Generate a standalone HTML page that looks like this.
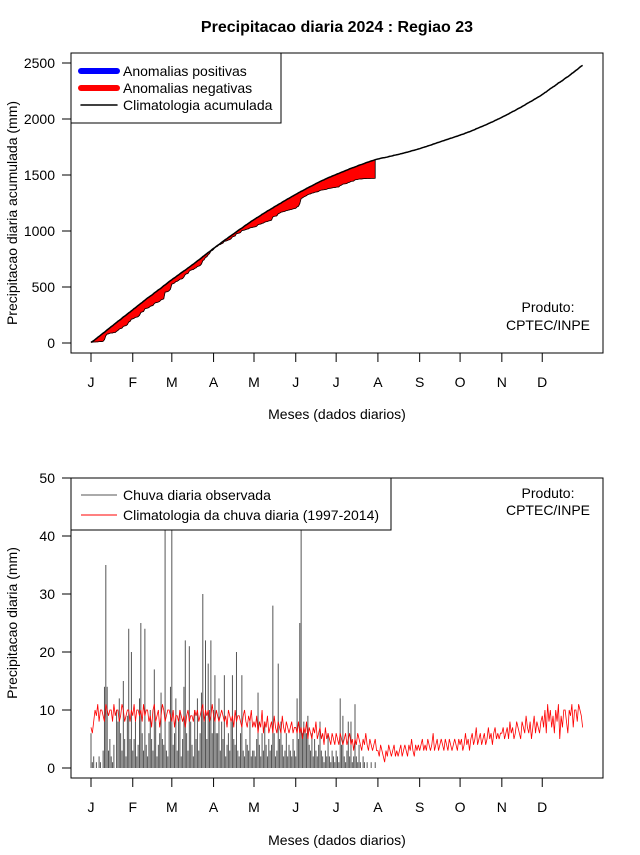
<!DOCTYPE html>
<html><head><meta charset="utf-8">
<style>
body{margin:0;background:#fff;width:640px;height:850px;overflow:hidden}
svg text{font-family:"Liberation Sans",sans-serif;fill:#000}
</style></head>
<body>
<svg id="chart" width="640" height="850" viewBox="0 0 640 850" xmlns="http://www.w3.org/2000/svg">
<text x="337" y="32" text-anchor="middle" font-size="16" font-weight="bold">Precipitacao diaria 2024 : Regiao 23</text>
<g id="topg"></g>
<g id="botg"></g>
</svg>
<script>
const monthLabels=["J","F","M","A","M","J","J","A","S","O","N","D"];
const monthStartDays=[1,32,61,92,122,153,183,214,245,275,306,336];
const topTicks=[0,500,1000,1500,2000,2500];
const botTicks=[0,10,20,30,40,50];
const obsDaily=[
6,1,2,0,1,0,2,1,0,3,14,35,14,3,5,2,1,4,0,10,8,12,6,3,15,5,2,9,24,5,20,
3,5,8,2,4,12,25,6,3,24,4,2,6,10,5,3,17,8,2,4,6,13,5,4,60,3,2,8,14,
45,4,6,12,3,8,10,2,5,14,22,6,3,21,8,4,2,10,5,12,3,6,13,30,8,22,5,18,10,22,6,
10,16,6,6,12,3,8,5,16,2,4,6,3,8,16,5,4,20,3,2,6,16,3,2,5,4,3,8,2,3,
3,2,5,13,4,2,6,3,8,4,2,5,3,4,28,6,2,3,18,5,8,4,2,3,6,2,4,3,2,5,3,
2,12,5,25,45,6,8,6,6,9,4,3,6,2,5,3,2,4,8,3,2,1,3,2,6,2,1,3,2,1,
3,2,1,12,4,9,2,1,3,8,2,8,1,2,11,2,1,4,1,0,2,1,0,1,0,0,1,0,0,1];
const climDaily=[
7,6,8,10,9,11,8,10,10,9,8,11,10,9,10,10,8,11,9,10,10,8,9,11,10,8,9,10,10,8,10,
9,11,8,10,10,9,10,8,11,9,10,10,8,9,7,10,11,8,9,10,7,9,11,10,8,9,10,10,9,
8,10,7,9,9,8,10,9,8,9,7,9,10,8,9,9,8,10,9,10,8,9,10,11,8,10,9,10,8,9,11,
9,8,10,9,8,9,10,9,8,9,7,10,9,8,9,7,10,8,9,9,8,7,9,10,8,7,9,8,10,7,
8,7,9,6,8,7,10,6,8,7,9,6,7,8,6,9,7,6,8,7,6,9,7,6,8,7,6,7,8,6,7,
7,6,8,6,7,5,7,6,8,5,7,6,5,7,6,8,5,6,7,5,6,4,7,5,6,5,4,6,5,4,
6,5,4,6,5,4,5,6,4,5,6,4,5,3,5,4,6,5,4,3,5,4,6,4,3,5,4,3,4,5,3,
3,2,4,3,2,1,3,2,4,3,2,3,4,2,3,2,3,4,2,3,4,3,2,4,3,5,3,2,4,3,4,
3,4,5,3,4,3,5,4,3,4,6,3,4,5,3,4,5,4,3,5,4,3,5,4,3,4,5,4,3,5,
4,5,3,4,6,4,5,3,5,6,4,5,7,4,5,6,4,5,6,4,5,7,5,6,4,6,7,5,6,5,6,
6,7,5,6,7,5,8,6,7,5,6,8,7,6,5,8,7,6,9,7,6,8,5,7,9,6,8,7,6,8,
9,7,10,6,11,8,10,7,9,6,10,8,11,5,9,7,10,10,8,6,10,9,11,7,10,10,8,11,10,9,7];

const NS="http://www.w3.org/2000/svg";
function mk(parent,tag,attrs,text){const e=document.createElementNS(NS,tag);for(const k in attrs)e.setAttribute(k,attrs[k]);if(text!==undefined)e.textContent=text;parent.appendChild(e);return e;}
const xDay=d=>91+(d-1)*1.347;
const yTop=v=>343-v*0.112;
const yBot=v=>768-v*5.8;

const obsCum=[],climCum=[];
let s=0;obsDaily.forEach(v=>{s+=v;obsCum.push(s);});
s=0;climDaily.forEach(v=>{s+=v;climCum.push(s);});

function axes(g,plotTop,plotBot,yf,ticks,ylabel,ylabCy,tickY,labY,xlabY,prefix){
  const box=mk(g,'rect',{x:71,y:plotTop,width:532,height:plotBot-plotTop,fill:'none',stroke:'#000','stroke-width':1});
  
  
  ticks.forEach(t=>{const y=yf(t);
    const l=mk(g,'line',{x1:62,x2:71,y1:y,y2:y,stroke:'#000'});
    
    
    const tx=mk(g,'text',{x:55,y:y+5,'text-anchor':'end','font-size':14},t);
    
    });
  monthStartDays.forEach((d,i)=>{const x=xDay(d);
    const l=mk(g,'line',{x1:x,x2:x,y1:tickY,y2:tickY+9,stroke:'#000'});
    
    
    const tx=mk(g,'text',{x:x,y:labY,'text-anchor':'middle','font-size':14},monthLabels[i]);
    
    });
  const yl=mk(g,'text',{x:0,y:0,'text-anchor':'middle','font-size':14,transform:`translate(17,${ylabCy}) rotate(-90)`},ylabel);
  
  
  const xl=mk(g,'text',{x:337,y:xlabY,'text-anchor':'middle','font-size':14},'Meses (dados diarios)');
  
  
}

const topG=document.getElementById('topg');
axes(topG,53,353,yTop,topTicks,'Precipitacao diaria acumulada (mm)',213,353,387,419,'top');
for(let i=0;i<obsCum.length-1;i++){
  const d=i+1;
  const neg=obsCum[i]+obsCum[i+1]<climCum[i]+climCum[i+1];
  const p=mk(topG,'polygon',{points:`${xDay(d)},${yTop(climCum[i])} ${xDay(d+1)},${yTop(climCum[i+1])} ${xDay(d+1)},${yTop(obsCum[i+1])} ${xDay(d)},${yTop(obsCum[i])}`,fill:neg?'#ff0000':'#0000ff',stroke:neg?'#ff0000':'#0000ff','stroke-width':0.6});
  
  
}
const nObs=obsCum.length;
let pts=obsCum.map((v,i)=>`${xDay(i+1)},${yTop(v)}`).join(' ');
const ol=mk(topG,'polyline',{points:pts+` ${xDay(nObs)},${yTop(climCum[nObs-1])}`,fill:'none',stroke:'#000','stroke-width':0.8});


pts=climCum.map((v,i)=>`${xDay(i+1)},${yTop(v)}`).join(' ');
const cl=mk(topG,'polyline',{points:pts,fill:'none',stroke:'#000','stroke-width':1.5});


const lg=mk(topG,'g',{});


mk(lg,'rect',{x:71,y:53,width:210,height:70,fill:'#fff',stroke:'#000'});
[['#0000ff',6,'Anomalias positivas'],['#ff0000',6,'Anomalias negativas'],['#000',1.5,'Climatologia acumulada']].forEach((e,i)=>{
  const y=71+i*17;
  const it=mk(lg,'g',{});
  
  
  mk(it,'line',{x1:81,x2:117,y1:y,y2:y,stroke:e[0],'stroke-width':e[1],'stroke-linecap':'round'});
  mk(it,'text',{x:123,y:y+5,'font-size':14},e[2]);
});
const pr1=mk(topG,'text',{x:548,y:312,'text-anchor':'middle','font-size':14},'Produto:');


const pr2=mk(topG,'text',{x:548,y:330,'text-anchor':'middle','font-size':14},'CPTEC/INPE');



const botG=document.getElementById('botg');
axes(botG,478,778,yBot,botTicks,'Precipitacao diaria (mm)',623,778,812,845,'bottom');
const cp=mk(botG,'clipPath',{id:'bclip'});
mk(cp,'rect',{x:71,y:478,width:532,height:300});
const bars=mk(botG,'g',{'clip-path':'url(#bclip)'});
obsDaily.forEach((v,i)=>{
  const b=mk(bars,'line',{x1:xDay(i+1),x2:xDay(i+1),y1:yBot(0),y2:yBot(v),stroke:'#555','stroke-width':1});
  
  
});
pts=climDaily.map((v,i)=>`${xDay(i+1)},${yBot(v)}`).join(' ');
const rl=mk(bars,'polyline',{points:pts,fill:'none',stroke:'#ff0000','stroke-width':0.8});


const lg2=mk(botG,'g',{});


mk(lg2,'rect',{x:71,y:478,width:320,height:52,fill:'#fff',stroke:'#000'});
[['#555','Chuva diaria observada'],['#ff0000','Climatologia da chuva diaria (1997-2014)']].forEach((e,i)=>{
  const y=495+i*20;
  const it=mk(lg2,'g',{});
  
  
  mk(it,'line',{x1:81,x2:117,y1:y,y2:y,stroke:e[0],'stroke-width':1});
  mk(it,'text',{x:123,y:y+5,'font-size':14},e[1]);
});
const pr3=mk(botG,'text',{x:548,y:498,'text-anchor':'middle','font-size':14},'Produto:');


const pr4=mk(botG,'text',{x:548,y:515,'text-anchor':'middle','font-size':14},'CPTEC/INPE');


</script>
</body></html>
